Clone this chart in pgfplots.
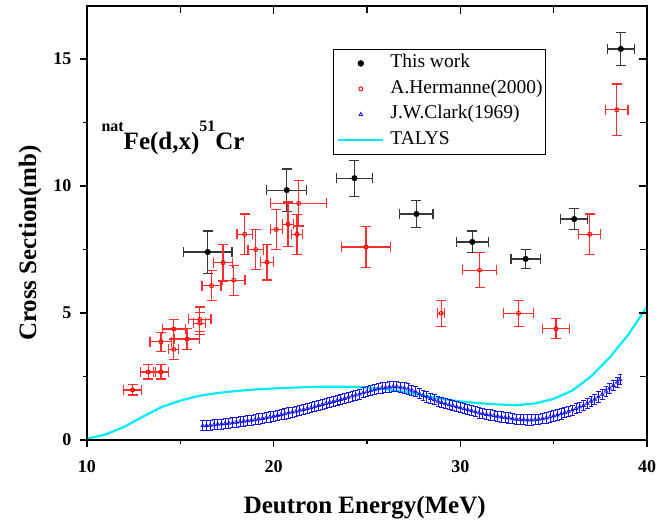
\documentclass[border=0pt]{standalone}
\usepackage{fontspec}
\setmainfont{Liberation Serif}
\usepackage{pgfplots}
\pgfplotsset{compat=1.18}
\usepackage{pgfplotstable}

\definecolor{talys}{RGB}{0,235,245}
\definecolor{twerr}{RGB}{55,55,55}
\definecolor{herr}{RGB}{255,45,45}
\definecolor{clark}{RGB}{20,20,235}

% This work: E, sigma, dE, dsigma
\pgfplotstableread{
x y ex ey
16.47 7.40 1.30 0.83
20.70 9.84 1.07 0.83
24.33 10.31 0.96 0.71
27.65 8.90 0.89 0.53
30.64 7.80 0.85 0.43
33.50 7.13 0.79 0.37
36.10 8.70 0.73 0.41
38.60 15.40 0.72 0.66
}\thiswork

% A. Hermanne (2000)
\pgfplotstableread{
x y ex ey
12.44 1.97 0.50 0.20
13.28 2.68 0.41 0.28
13.96 2.68 0.41 0.28
13.96 3.87 0.58 0.37
14.65 4.37 0.61 0.39
14.65 3.57 0.27 0.39
15.36 3.98 0.68 0.41
16.04 4.75 0.60 0.49
16.04 4.60 0.32 0.43
16.67 6.08 0.51 0.59
17.29 6.98 0.52 0.72
17.86 6.29 0.60 0.59
18.45 8.10 0.41 0.80
19.04 7.50 0.42 0.79
19.64 7.00 0.36 0.70
20.14 8.29 0.32 0.79
20.77 8.50 0.30 0.87
21.34 9.32 1.49 0.89
21.25 8.10 0.31 0.79
24.95 7.60 1.30 0.81
28.97 4.99 0.18 0.51
31.03 6.69 0.91 0.70
33.12 4.99 0.80 0.51
35.13 4.38 0.71 0.39
36.93 8.10 0.60 0.80
38.38 13.00 0.60 1.02
}\hermanne

% J.W. Clark (1969)
\pgfplotstableread{
x y
16.2 0.56
16.4 0.57
16.6 0.58
16.8 0.60
17.0 0.62
17.2 0.63
17.4 0.65
17.6 0.66
17.8 0.68
18.0 0.70
18.2 0.72
18.4 0.74
18.6 0.76
18.8 0.78
19.0 0.80
19.2 0.83
19.4 0.85
19.6 0.88
19.8 0.91
20.0 0.94
20.2 0.97
20.4 1.00
20.6 1.03
20.8 1.07
21.0 1.10
21.2 1.13
21.4 1.17
21.6 1.20
21.8 1.24
22.0 1.27
22.2 1.31
22.4 1.36
22.6 1.40
22.8 1.44
23.0 1.48
23.2 1.52
23.4 1.56
23.6 1.60
23.8 1.64
24.0 1.68
24.2 1.73
24.4 1.77
24.6 1.81
24.8 1.86
25.0 1.90
25.2 1.94
25.4 1.98
25.6 2.02
25.8 2.05
26.0 2.07
26.2 2.09
26.4 2.10
26.6 2.10
26.8 2.08
27.0 2.05
27.2 2.01
27.4 1.96
27.6 1.90
27.8 1.82
28.0 1.75
28.2 1.70
28.4 1.64
28.6 1.59
28.8 1.53
29.0 1.48
29.2 1.43
29.4 1.39
29.6 1.35
29.8 1.31
30.0 1.27
30.2 1.23
30.4 1.19
30.6 1.15
30.8 1.11
31.0 1.07
31.2 1.04
31.4 1.01
31.6 0.99
31.8 0.96
32.0 0.94
32.2 0.91
32.4 0.89
32.6 0.87
32.8 0.84
33.0 0.82
33.2 0.81
33.4 0.80
33.6 0.79
33.8 0.79
34.0 0.80
34.2 0.82
34.4 0.84
34.6 0.87
34.8 0.91
35.0 0.95
35.2 0.99
35.4 1.03
35.6 1.08
35.8 1.13
36.0 1.18
36.2 1.24
36.4 1.30
36.6 1.36
36.8 1.45
37.0 1.53
37.2 1.61
37.4 1.70
37.6 1.80
37.8 1.92
38.0 2.04
38.2 2.15
38.4 2.28
38.55 2.38
}\clark

% TALYS calculation
\pgfplotstableread{
x y
10 0.05
11 0.22
12 0.52
13 0.92
14 1.30
15 1.55
16 1.74
17 1.85
18 1.93
19 1.99
20 2.03
21 2.06
22 2.09
23 2.10
24 2.10
25 2.07
26 2.00
27 1.90
28 1.76
29 1.62
30 1.52
31 1.45
32 1.40
33 1.37
34 1.44
35 1.62
36 1.95
37 2.50
38 3.25
39 4.15
40 5.25
}\talystab

\pgfplotsset{
  frame/.style={
    at={(0pt,0pt)}, anchor=south west,
    scale only axis, width=560pt, height=434pt,
    xmin=10, xmax=40, ymin=0, ymax=17.09,
    xtick={10,20,30,40}, ytick={0,5,10,15},
    minor x tick num=1, minor y tick num=1,
    axis line style={line width=1.3pt},
    every tick/.style={black, line width=1.3pt},
  },
}

\begin{document}
\begin{tikzpicture}
\path[use as bounding box] (-87pt,-82pt) rectangle (573pt,440pt);

\begin{axis}[
  frame,
  xtick pos=left, ytick pos=left,
  tick align=outside,
  major tick length=7pt, minor tick length=4pt,
  /pgf/number format/assume math mode=true,
  ticklabel style={font=\fontsize{18}{18}\bfseries\selectfont},
  xticklabel style={anchor=base, yshift=-25pt},
  yticklabel style={anchor=east, xshift=-5pt},
  xlabel={Deutron Energy(MeV)},
  ylabel={Cross Section(mb)},
  xlabel style={at={(axis description cs:0.496,0)}, anchor=base, yshift=-73pt,
    font=\fontsize{25}{25}\bfseries\selectfont},
  ylabel style={at={(axis description cs:-0.091,0.454)}, anchor=base,
    font=\fontsize{25}{25}\bfseries\selectfont},
  legend image code/.code={%
    \path (0pt,0pt);
    \draw[mark repeat=2,mark phase=2,#1] plot coordinates {(2.5pt,0pt) (25pt,0pt) (47.5pt,0pt)};},
  legend style={at={(axis description cs:0.8196,0.9009)}, anchor=north east,
    draw=black, line width=0.8pt, fill=white,
    font=\fontsize{19.5}{19.5}\selectfont,
    inner xsep=1.5pt, inner ysep=5pt, row sep=7.5pt, column sep=4.5pt,
    nodes={inner ysep=0pt, inner xsep=1.5pt, text height=13.5pt, text depth=4.5pt}},
  legend cell align=left,
]

% TALYS curve underneath the data
\addplot[color=talys, line width=2.2pt, no marks, forget plot] table[x=x, y=y] {\talystab};

% This work
\addplot[only marks, mark=*, mark size=2.8pt, color=black,
  error bars/.cd, x dir=both, x explicit, y dir=both, y explicit,
  error bar style={color=twerr, line width=1.2pt},
  error mark options={rotate=90, color=twerr, line width=1.2pt, mark size=5pt}]
  table[x=x, y=y, x error=ex, y error=ey] {\thiswork};
\addlegendentry{This work}

% Hermanne
\addplot[only marks, mark=o, mark size=2pt, color=red, mark options={fill=white, line width=0.9pt},
  error bars/.cd, x dir=both, x explicit, y dir=both, y explicit,
  error bar style={color=herr, line width=1.2pt},
  error mark options={rotate=90, color=herr, line width=1.2pt, mark size=5pt}]
  table[x=x, y=y, x error=ex, y error=ey] {\hermanne};
\addlegendentry{A.Hermanne(2000)}

% Clark
\addplot[only marks, mark=triangle, mark size=2pt, color=clark, mark options={line width=0.8pt},
  error bars/.cd, y dir=both, y fixed=0.2,
  error bar style={color=clark, line width=0.8pt},
  error mark options={rotate=90, color=clark, line width=0.8pt, mark size=2.4pt}]
  table[x=x, y=y] {\clark};
\addlegendentry{J.W.Clark(1969)}

\addlegendimage{color=talys, line width=2.2pt, no marks}
\addlegendentry{TALYS}

\node[anchor=base west, font=\fontsize{25}{25}\bfseries\selectfont]
  at (axis description cs:0.0196,0.6705)
  {\raisebox{18pt}{\fontsize{16}{16}\selectfont nat}Fe(d,x)\raisebox{18pt}{\fontsize{16}{16}\selectfont 51}Cr};
\end{axis}

% ticks on the top and right edges point inward
\begin{axis}[
  frame,
  xtick pos=right, ytick pos=right,
  tick align=inside,
  major tick length=8pt, minor tick length=7pt,
  xticklabels={}, yticklabels={},
]
\end{axis}
\end{tikzpicture}
\end{document}
